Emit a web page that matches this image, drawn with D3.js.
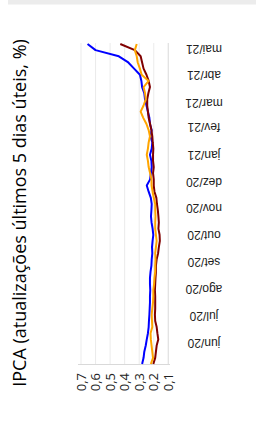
<!DOCTYPE html>
<meta charset="utf-8">
<style>
body { margin: 0; background: #fff; }
svg { display: block; }
.grid line { stroke: #ebebeb; stroke-width: 1; }
.title { font: 18px "Open Sans", sans-serif; fill: #000; }
.vtick { font: 13px "Open Sans", sans-serif; fill: #222; }
.mtick { font: 12px "Liberation Sans", Arial, sans-serif; fill: #222; }
.line { fill: none; stroke-width: 2px; stroke-linejoin: round; }
</style>
<body>
<script src="https://d3js.org/d3.v7.min.js"></script>
<script>

// weekly observations, first one on 08/05/2020
var startDate = "2020-05-08";
var nWeeks = 53;

var blue = [0.28, 0.27, 0.265, 0.255, 0.248, 0.24, 0.235, 0.233, 0.23, 0.228,
            0.226, 0.226, 0.224, 0.226, 0.226, 0.222, 0.216, 0.214, 0.21, 0.212,
            0.208, 0.203, 0.208, 0.215, 0.219, 0.216, 0.214, 0.22, 0.235, 0.248,
            0.225, 0.22, 0.214, 0.216, 0.226, 0.214, 0.21, 0.223, 0.214, 0.226,
            0.23, 0.24, 0.25, 0.26, 0.265, 0.28, 0.285, 0.295, 0.335, 0.375,
            0.44, 0.6, 0.655];

var red = [0.203, 0.19, 0.185, 0.18, 0.169, 0.175, 0.18, 0.19, 0.192, 0.19,
           0.19, 0.19, 0.192, 0.19, 0.188, 0.185, 0.185, 0.18, 0.17, 0.165,
           0.158, 0.16, 0.168, 0.165, 0.168, 0.172, 0.178, 0.182, 0.195, 0.2,
           0.2, 0.205, 0.2, 0.205, 0.205, 0.203, 0.207, 0.21, 0.216, 0.225,
           0.235, 0.24, 0.245, 0.245, 0.237, 0.226, 0.235, 0.25, 0.27, 0.28,
           0.29, 0.33, 0.43];

var orange = [0.22, 0.205, 0.21, 0.215, 0.22, 0.222, 0.21, 0.212, 0.214, 0.21,
              0.205, 0.203, 0.203, 0.198, 0.195, 0.19, 0.19, 0.188, 0.19, 0.185,
              0.18, 0.185, 0.19, 0.19, 0.188, 0.19, 0.19, 0.2, 0.208, 0.215,
              0.216, 0.225, 0.235, 0.24, 0.248, 0.24, 0.235, 0.226, 0.235, 0.25,
              0.272, 0.29, 0.27, 0.255, 0.26, 0.27, 0.235, 0.283, 0.295, 0.31,
              0.317, 0.33, 0.317];

var valueTicks = [0.1, 0.2, 0.3, 0.4, 0.5, 0.6, 0.7];
var monthLabels = ["jun/20", "jul/20", "ago/20", "set/20", "out/20", "nov/20",
                   "dez/20", "jan/21", "fev/21", "mar/21", "abr/21", "mai/21"];

var width = 256, height = 428;

var svg = d3.select("body").append("svg")
    .attr("width", width)
    .attr("height", height);

// light band on top
svg.append("rect")
    .attr("x", 8).attr("y", 0)
    .attr("width", width - 8).attr("height", 4.5)
    .attr("fill", "#ececec");

var parse = d3.timeParse("%Y-%m-%d");
var t0 = parse(startDate);
var dates = d3.range(nWeeks).map(function(i) { return d3.timeDay.offset(t0, 7 * i); });

// the chart is turned a quarter turn: values run right-to-left, time runs bottom-to-top
var x = d3.scaleLinear()
    .domain([0.1, 0.7])
    .range([168.3, 81]);

var y = d3.scaleTime()
    .domain([dates[0], dates[dates.length - 1]])
    .range([364, 44]);

var fmt = d3.format(".1f");

svg.append("g")
    .attr("class", "grid")
    .selectAll("line")
    .data(valueTicks)
    .enter().append("line")
    .attr("x1", function(d) { return x(d); })
    .attr("x2", function(d) { return x(d); })
    .attr("y1", 43)
    .attr("y2", 364);

// axis lines
svg.append("line")
    .attr("x1", 78).attr("x2", 170)
    .attr("y1", 364.5).attr("y2", 364.5)
    .attr("stroke", "#d9d9d9");

svg.append("line")
    .attr("x1", 168.3).attr("x2", 168.3)
    .attr("y1", 43).attr("y2", 364)
    .attr("stroke", "#e0e0e0");

svg.selectAll(".vtick")
    .data(valueTicks)
    .enter().append("text")
    .attr("class", "vtick")
    .attr("transform", function(d) { return "translate(" + x(d) + ",373) rotate(-90)"; })
    .attr("text-anchor", "end")
    .attr("dy", "0.35em")
    .text(function(d) { return fmt(d).replace(".", ","); });

var months = d3.timeMonth.range(new Date(2020, 5, 1), new Date(2021, 5, 1));

svg.selectAll(".mtick")
    .data(months)
    .enter().append("text")
    .attr("class", "mtick")
    .attr("transform", function(d) { return "translate(204," + y(d) + ") rotate(180)"; })
    .attr("text-anchor", "middle")
    .attr("dy", "0.35em")
    .text(function(d, i) { return monthLabels[i]; });

svg.append("text")
    .attr("class", "title")
    .attr("transform", "translate(20,213) rotate(-90)")
    .attr("text-anchor", "middle")
    .attr("dy", "0.35em")
    .text("IPCA (atualizações últimos 5 dias úteis, %)");

var line = d3.line()
    .x(function(d) { return x(d.v); })
    .y(function(d) { return y(d.t); });

var series = [
  {values: blue, color: "#0000ff"},
  {values: red, color: "#800000"},
  {values: orange, color: "#ffa500"}
];

series.forEach(function(s) {
  var pts = s.values.map(function(v, i) { return {t: dates[i], v: v}; });
  svg.append("path")
      .datum(pts)
      .attr("class", "line")
      .attr("stroke", s.color)
      .attr("d", line);
});

</script>
